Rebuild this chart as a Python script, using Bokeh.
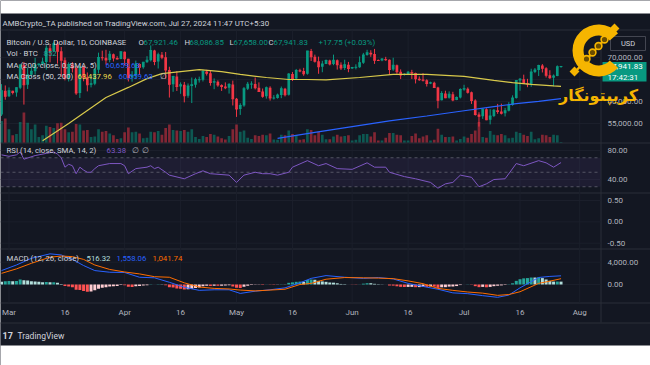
import numpy as np
import pandas as pd
from bokeh.plotting import figure
from bokeh.models import Range1d
from bokeh.core.properties import value
from bokeh.embed import file_html
from bokeh.resources import INLINE

# ----------------------------- data -----------------------------
first_day = "2024-02-28"
opens = [57050, 62450, 61200, 62430, 62030, 63130, 68280, 63800, 66100, 66900, 68300, 68500, 69000, 72100, 71480, 73100, 71400, 69400, 65300, 68400,
         67600, 61950, 67850, 65500, 63800, 64050, 67200, 70000, 69950, 69450, 70750, 69900, 69650, 71300, 69700, 65450, 65950, 68500, 67800, 68900,
         69350, 71600, 69100, 70600, 70050, 67150, 63900, 65700, 63400, 63800, 61300, 63500, 63800, 64950, 64950, 66800, 66400, 64300, 64500, 63750,
         63400, 63100, 63850, 60600, 58300, 59100, 62900, 63900, 64000, 63150, 62300, 61200, 63100, 60800, 60800, 61450, 62900, 61550, 66250, 65250,
         67050, 66950, 66300, 71450, 70150, 69150, 67900, 68550, 69300, 68500, 69400, 68350, 67600, 68350, 67500, 67750, 67800, 68800, 70550, 71100,
         70800, 69350, 69300, 69650, 69500, 67300, 68250, 66750, 66000, 66200, 66650, 66500, 65150, 64950, 64850, 64100, 64250, 63200, 60300, 61800,
         60850, 61650, 60350, 60900, 62700, 62900, 62100, 60200, 57050, 56650, 58250, 55850, 56700, 58000, 57750, 57350, 57900, 59200, 60800, 64750,
         65050, 64100, 63950, 66700, 67150, 68200, 67550, 65950, 65400, 65800, 67921.46]
highs = [63950, 63650, 63200, 62450, 63230, 68550, 69000, 67650, 67950, 69950, 68650, 69950, 72750, 72950, 73650, 73800, 72400, 70000, 68900, 68950,
         68100, 68100, 68200, 66600, 65950, 67550, 71100, 71550, 71750, 71500, 70900, 70300, 71350, 71350, 69700, 66900, 69300, 68700, 69000, 70300,
         72750, 71750, 71100, 71250, 71250, 67900, 65850, 66900, 64350, 64450, 64100, 65450, 65400, 65650, 67200, 67200, 67050, 65250, 64800, 63900,
         64350, 64200, 64750, 60800, 59600, 63300, 64450, 64600, 65450, 64350, 62950, 63400, 63450, 61450, 61800, 63400, 63100, 66450, 66700, 67400,
         67450, 67650, 71500, 71950, 70650, 70200, 69250, 69550, 69500, 70650, 69550, 68900, 69500, 69000, 67850, 68450, 70250, 71050, 71750, 71650,
         71950, 69550, 69850, 70150, 69550, 69950, 68400, 67300, 66400, 66950, 67200, 66550, 65700, 66450, 65050, 64500, 64500, 63350, 62350, 62450,
         62300, 62200, 61150, 63000, 63800, 63200, 62250, 60500, 57550, 58450, 58450, 58250, 58300, 59450, 59500, 58550, 59850, 61400, 64900, 65350,
         66100, 65150, 67450, 67600, 68350, 68500, 67800, 67100, 66150, 68200, 68086.85]
lows = [56700, 60400, 61000, 61600, 61100, 62800, 59300, 62850, 65500, 66100, 67950, 68150, 67250, 68900, 71350, 68600, 65600, 64800, 64550, 66600,
        61500, 60800, 64600, 62300, 63200, 63700, 66400, 69300, 68400, 68900, 69100, 69550, 69600, 68150, 64550, 64500, 65100, 66000, 67450, 68800,
        69100, 68250, 67500, 69600, 65100, 60900, 62200, 62400, 61750, 59800, 60850, 59650, 63150, 64300, 64550, 65900, 63600, 62800, 63350, 62400,
        62800, 61800, 59100, 56500, 56950, 58800, 62600, 62900, 62750, 62250, 60850, 60650, 60200, 60450, 60650, 60750, 61150, 61350, 64650, 65100,
        66650, 65850, 66100, 69200, 68850, 66300, 66650, 68500, 68200, 68250, 67250, 67150, 67150, 66650, 67400, 67300, 67650, 68550, 70400, 70150,
        68550, 69200, 69150, 69250, 66100, 66950, 66300, 65100, 65900, 66050, 65100, 64100, 64700, 64550, 63400, 63950, 63200, 58450, 60250, 60750,
        60650, 60050, 60300, 60700, 62450, 61800, 59450, 56800, 54300, 56050, 55750, 54800, 56450, 57200, 57050, 56600, 57750, 59050, 60650, 62450,
        64000, 63250, 63350, 66450, 65800, 66600, 65450, 65150, 63450, 65750, 67658.00]
closes = [62450, 61200, 62430, 62030, 63130, 68280, 63800, 66100, 66900, 68300, 68500, 69000, 72100, 71480, 73100, 71400, 69400, 65300, 68400, 67600,
          61950, 67850, 65500, 63800, 64050, 67200, 70000, 69950, 69450, 70750, 69900, 69650, 71300, 69700, 65450, 65950, 68500, 67800, 68900, 69350,
          71600, 69100, 70600, 70050, 67150, 63900, 65700, 63400, 63800, 61300, 63500, 63800, 64950, 64950, 66800, 66400, 64300, 64500, 63750, 63400,
          63100, 63850, 60600, 58300, 59100, 62900, 63900, 64000, 63150, 62300, 61200, 63100, 60800, 60800, 61450, 62900, 61550, 66250, 65250, 67050,
          66950, 66300, 71450, 70150, 69150, 67900, 68550, 69300, 68500, 69400, 68350, 67600, 68350, 67500, 67750, 67800, 68800, 70550, 71100, 70800,
          69350, 69300, 69650, 69500, 67300, 68250, 66750, 66000, 66200, 66650, 66500, 65150, 64950, 64850, 64100, 64250, 63200, 60300, 61800, 60850,
          61650, 60350, 60900, 62700, 62900, 62100, 60200, 57050, 56650, 58250, 55850, 56700, 58000, 57750, 57350, 57900, 59200, 60800, 64750, 65050,
          64100, 63950, 66700, 67150, 68200, 67550, 65950, 65400, 65800, 67924.08, 67941.83]
volumes = [36000, 40000, 22000, 12000, 14000, 34000, 50000, 33000, 22000, 30000, 9000, 12000, 28000, 26000, 24000, 32000, 33000, 22000, 17000, 18000,
           31000, 30000, 20000, 21000, 9000, 10000, 22000, 18000, 19000, 15000, 12000, 6000, 7000, 17000, 25000, 17000, 18000, 15000, 7000, 8000,
           18000, 17000, 19000, 13000, 24000, 30000, 21000, 20000, 19000, 21000, 18000, 22000, 9000, 6000, 11000, 9000, 14000, 13000, 10000, 7000,
           5000, 11000, 22000, 30000, 18000, 20000, 8000, 6000, 12000, 11000, 13000, 12000, 15000, 5000, 4500, 13000, 12000, 20000, 14000, 12000,
           4500, 5500, 22000, 21000, 12000, 18000, 13000, 5500, 5500, 10000, 13000, 10000, 11000, 12000, 3500, 4500, 12000, 14000, 14000, 10000,
           17000, 3500, 3500, 8000, 16000, 16000, 13000, 12000, 3500, 3500, 11000, 15000, 7000, 10000, 12000, 3500, 4500, 23000, 13000, 9000,
           9000, 10000, 3500, 6000, 10000, 8000, 14000, 20000, 34000, 9000, 8000, 19000, 13000, 12000, 14000, 12000, 7000, 8000, 18000, 16000,
           13000, 11000, 18000, 5500, 7000, 13000, 12000, 9000, 13000, 12000, 852]
macd_hist = [500, 600, 650, 600, 620, 900, 750, 700, 600, 560, 480, 400, 450, 400, 420, 300, 100, -250, -350, -500,
             -950, -1000, -1150, -1300, -1250, -1050, -750, -600, -500, -350, -300, -250, -100, -120, -400, -450, -300, -280, -200, -120,
             50, 20, 60, 40, -150, -500, -550, -700, -780, -900, -850, -780, -650, -520, -330, -220, -250, -230, -240, -230,
             -200, -150, -350, -600, -650, -420, -230, -100, -50, -40, -80, 20, -40, -60, -30, 40, 30, 300, 380, 480,
             520, 480, 800, 900, 850, 650, 550, 480, 360, 330, 220, 100, 70, 0, -30, -40, 20, 150, 230, 230,
             120, 60, 30, 0, -180, -200, -320, -420, -450, -430, -420, -480, -470, -420, -420, -350, -380, -600, -500, -480,
             -380, -360, -280, -100, 0, 30, -50, -300, -480, -430, -500, -430, -300, -220, -160, -80, 40, 220, 650, 950,
             1100, 1150, 1250, 1250, 1300, 1150, 900, 650, 520, 530, 516.32]
macd_dates = ["2024-02-28", "2024-03-03", "2024-03-07", "2024-03-12", "2024-03-15", "2024-03-18", "2024-03-21", "2024-03-24", "2024-03-28", "2024-04-01",
              "2024-04-05", "2024-04-09", "2024-04-13", "2024-04-17", "2024-04-21", "2024-04-25", "2024-04-29", "2024-05-02", "2024-05-06", "2024-05-10",
              "2024-05-14", "2024-05-18", "2024-05-21", "2024-05-25", "2024-05-30", "2024-06-04", "2024-06-08", "2024-06-12", "2024-06-16", "2024-06-20",
              "2024-06-24", "2024-06-28", "2024-07-02", "2024-07-06", "2024-07-10", "2024-07-13", "2024-07-16", "2024-07-21", "2024-07-24", "2024-07-27"]
macd_line = [2500, 3500, 4700, 5500, 5300, 4500, 3400, 2500, 2200, 2150, 1300, 1200, 400, -500, -1050, -950, -950, -1600, -1200, -950,
             -600, 300, 1100, 1600, 1300, 1100, 1250, 1000, 200, -350, -850, -1500, -1650, -2000, -2300, -1900, -600, 1260, 1450, 1558.06]
signal_line = [2000, 2800, 3800, 4900, 5100, 5000, 4500, 3500, 2700, 2250, 1900, 1400, 1300, 300, -450, -700, -800, -1000, -1150, -1000,
               -850, 0, 200, 950, 1250, 1200, 1150, 1050, 650, 150, -700, -1050, -1350, -1550, -1950, -1800, -1300, 200, 600, 1041.74]
ma50_dates = ["2024-03-10", "2024-03-17", "2024-03-22", "2024-03-27", "2024-04-02", "2024-04-07", "2024-04-11", "2024-04-16", "2024-04-21", "2024-04-27",
              "2024-05-02", "2024-05-09", "2024-05-15", "2024-05-20", "2024-05-25", "2024-06-03", "2024-06-12", "2024-06-21", "2024-07-01", "2024-07-09",
              "2024-07-14", "2024-07-19", "2024-07-25", "2024-07-27"]
ma50 = [51100, 55000, 57950, 60900, 63200, 65200, 66350, 66800, 67250, 66800, 66150, 65450, 65000, 65000, 64900, 65450, 66150, 66150, 65700, 64800,
        64300, 63900, 63550, 63437.96]
ma200_dates = ["2024-05-12", "2024-05-22", "2024-06-01", "2024-06-11", "2024-06-21", "2024-07-01", "2024-07-09", "2024-07-15", "2024-07-21", "2024-07-27"]
ma200 = [51600, 53000, 54300, 55600, 56700, 57900, 58850, 59500, 60050, 60659.63]
rsi_dates = ["2024-02-28", "2024-03-01", "2024-03-03", "2024-03-04", "2024-03-05", "2024-03-08", "2024-03-11", "2024-03-13", "2024-03-14", "2024-03-15",
             "2024-03-16", "2024-03-17", "2024-03-18", "2024-03-19", "2024-03-20", "2024-03-21", "2024-03-22", "2024-03-23", "2024-03-24", "2024-03-25",
             "2024-03-28", "2024-03-31", "2024-04-01", "2024-04-02", "2024-04-04", "2024-04-07", "2024-04-08", "2024-04-09", "2024-04-10", "2024-04-12",
             "2024-04-13", "2024-04-17", "2024-04-20", "2024-04-22", "2024-04-24", "2024-04-29", "2024-05-01", "2024-05-03", "2024-05-06", "2024-05-08",
             "2024-05-10", "2024-05-12", "2024-05-15", "2024-05-16", "2024-05-20", "2024-05-23", "2024-05-25", "2024-05-28", "2024-06-01", "2024-06-05",
             "2024-06-07", "2024-06-10", "2024-06-11", "2024-06-15", "2024-06-18", "2024-06-22", "2024-06-24", "2024-06-26", "2024-06-28", "2024-06-30",
             "2024-07-03", "2024-07-05", "2024-07-07", "2024-07-09", "2024-07-12", "2024-07-15", "2024-07-17", "2024-07-21", "2024-07-23", "2024-07-25",
             "2024-07-27"]
rsi_vals = [74, 72, 74, 78, 68, 73, 76, 78, 75, 70, 57, 61, 59, 48, 57, 53, 50, 50, 55, 59,
            62, 62, 59, 48, 55, 57, 59, 55, 57, 50, 46, 41, 48, 52, 48, 46, 36, 46, 50, 48,
            48, 46, 50, 57, 66, 59, 62, 55, 54, 63, 57, 57, 50, 44, 41, 36, 28, 34, 36, 46,
            43, 30, 34, 40, 41, 62, 59, 66, 63, 57, 63.38]
tick_dates = ["2024-03-01", "2024-03-16", "2024-04-01", "2024-04-16", "2024-05-01", "2024-05-16",
              "2024-06-01", "2024-06-16", "2024-07-01", "2024-07-16", "2024-08-01"]
tick_labels = ["Mar", "16", "Apr", "16", "May", "16", "Jun", "16", "Jul", "16", "Aug"]
price_ticks = [70000, 60000, 55000]
price_grid = [70000, 65000, 60000, 55000]
rsi_ticks = [80, 40]
rsi_levels = [70, 50, 30]
blank_ticks = [0.5, 0.0, -0.5]
macd_ticks = [4000, 0]
header = "AMBCrypto_TA published on TradingView.com, Jul 27, 2024 11:47 UTC+5:30"
countdown = "17:42:31"
watermark = "کریپتونگار"

# ----------------------------- layout -----------------------------
W, H = 650, 365
BG = "#131722"
LINE = "#2a2e39"
GRID = "#1b1f2b"
TXT = "#d1d4dc"
AXT = "#b2b5be"
UP, DN = "#089981", "#f23645"
GOLD = "#f6b500"
FONT = value("Roboto")
LEG = "7.8px"
ORG = pd.Timestamp("2024-03-01")
X0_REF, PX_DAY = 8.5, 3.73
PANE_R = 600               # x of the pane / price scale border


def day(s):
    return (pd.Timestamp(s) - ORG).days


def yrange(v1, y1, v2, y2):
    k = (v2 - v1) / (y2 - y1)
    return Range1d(start=v1 + (H - y1) * k, end=v1 - y1 * k)


dates = pd.date_range(first_day, periods=len(closes), freq="D")
xd = np.array([(d - ORG).days for d in dates], dtype=float)

p = figure(width=W, height=H,
           x_range=Range1d(-X0_REF / PX_DAY, (W - X0_REF) / PX_DAY),
           y_range=yrange(70000, 57, 60000, 101),
           output_backend="svg", toolbar_location=None,
           x_axis_location=None, y_axis_location=None,
           min_border=0, min_border_left=0, min_border_right=0, min_border_top=0, min_border_bottom=0,
           background_fill_color=BG, border_fill_color=BG, outline_line_color=None)
p.grid.visible = False
p.extra_x_ranges = {"px": Range1d(0, W)}
p.extra_y_ranges = {"py": Range1d(H, 0),
                    "vol": yrange(0, 142, 50000, 112),
                    "rsi": yrange(80, 150, 40, 179),
                    "blank": yrange(0.5, 200, -0.5, 242.7),
                    "macd": yrange(4000, 261.7, 0, 284)}

PX = dict(x_range_name="px", y_range_name="py")


def hline(y, x0=0, x1=W, color=LINE, width=1):
    p.segment(x0=[x0], x1=[x1], y0=[y], y1=[y], line_color=color, line_width=width, **PX)


def txt(x, y, s, color=TXT, size=LEG, align="left", style="normal", font=FONT):
    p.text(x=[x], y=[y], text=[s], text_color=color, text_font=font, text_font_size=value(size),
           text_align=align, text_baseline="middle", text_font_style=style, **PX)


# page bands
p.quad(left=[0], right=[W], top=[0], bottom=[13], fill_color="white", line_color=None, **PX)
p.quad(left=[0], right=[W], top=[322], bottom=[345], fill_color="#161a25", line_color=None, **PX)
p.quad(left=[0], right=[W], top=[345], bottom=[H], fill_color="white", line_color=None, **PX)
for yv in (29.5, 142.5, 192.5, 248.5, 302.5, 322.5):
    hline(yv)
p.segment(x0=[PANE_R + 0.5], x1=[PANE_R + 0.5], y0=[30], y1=[322], line_color=LINE, **PX)

# grid
tick_x = [day(s) for s in tick_dates]
p.segment(x0=tick_x, x1=tick_x, y0=[30] * len(tick_x), y1=[302] * len(tick_x), line_color=GRID, y_range_name="py")
p.segment(x0=[0] * len(price_grid), x1=[PANE_R] * len(price_grid), y0=price_grid, y1=price_grid, line_color=GRID, x_range_name="px")
for rname, vals in (("rsi", rsi_ticks), ("blank", blank_ticks), ("macd", macd_ticks)):
    p.segment(x0=[0] * len(vals), x1=[PANE_R] * len(vals), y0=vals, y1=vals, line_color=GRID,
              x_range_name="px", y_range_name=rname)

# RSI band
p.quad(left=[0], right=[PANE_R], top=[rsi_levels[0]], bottom=[rsi_levels[-1]], fill_color="#7e57c2", fill_alpha=0.1,
       line_color=None, x_range_name="px", y_range_name="rsi")
p.segment(x0=[0] * 3, x1=[PANE_R] * 3, y0=rsi_levels, y1=rsi_levels, line_color="#787b86", line_alpha=0.6,
          line_dash="3 3", x_range_name="px", y_range_name="rsi")

# volume
o, c = np.array(opens), np.array(closes)
up = c >= o
col = [UP if u else DN for u in up]
p.vbar(x=xd, top=volumes, bottom=0, width=0.72, fill_color=col, fill_alpha=0.5, line_color=None, y_range_name="vol")

# candles
p.segment(x0=xd, x1=xd, y0=lows, y1=highs, line_color=col, line_width=1)
p.vbar(x=xd, top=np.maximum(o, c), bottom=np.minimum(o, c), width=0.72, fill_color=col, line_color=None)
p.rect(x=xd, y=c, width=0.72, height=1, height_units="screen", fill_color=col, line_color=None)

# moving averages
p.line([day(s) for s in ma50_dates], ma50, line_color="#d8c94b", line_width=1.2)
p.line([day(s) for s in ma200_dates], ma200, line_color="#2962ff", line_width=1.2)

# RSI
p.line([day(s) for s in rsi_dates], rsi_vals, line_color="#7e57c2", line_width=1, y_range_name="rsi")

# MACD
hcol = []
for i, h in enumerate(macd_hist):
    prev = macd_hist[i - 1] if i else h
    if h >= 0:
        hcol.append("#26a69a" if h > prev else "#b2dfdb")
    else:
        hcol.append("#ffcdd2" if h > prev else "#ff5252")
p.vbar(x=xd, top=macd_hist, bottom=0, width=0.8, fill_color=hcol, line_color=None, y_range_name="macd")
p.line([day(s) for s in macd_dates], macd_line, line_color="#2962ff", line_width=1, y_range_name="macd")
p.line([day(s) for s in macd_dates], signal_line, line_color="#ff6d00", line_width=1, y_range_name="macd")

# ----------------------------- texts -----------------------------
txt(2, 23, header, size="7.9px")
chg = closes[-1] - closes[-2]
pct = chg / closes[-2] * 100
row1 = [(6, "Bitcoin / U.S. Dollar, 1D, COINBASE", TXT), (138, "O", TXT), (143, f"{opens[-1]:,.2f}", UP),
        (184, "H", TXT), (189, f"{highs[-1]:,.2f}", UP), (229, "L", TXT), (233, f"{lows[-1]:,.2f}", UP),
        (268, "C", TXT), (273, f"{closes[-1]:,.2f}", UP), (318, f"{chg:+,.2f} ({pct:+.2f}%)", UP)]
for xv, s, cc in row1:
    txt(xv, 41.5, s, cc)
txt(6, 53.3, "Vol · BTC")
txt(43, 53.3, f"{volumes[-1]:,.0f}", "#26a69a")
txt(6, 64.8, "MA (200, close, 0, SMA, 5)")
txt(105, 64.8, f"{ma200[-1]:,.2f}", "#2962ff")
txt(6, 76.3, "MA Cross (50, 200)")
txt(77, 76.3, f"{ma50[-1]:,.2f}", "#e8d84e")
txt(118, 76.3, f"{ma200[-1]:,.2f}", "#2962ff")
txt(159, 76.3, "∅", AXT)
txt(6, 150, "RSI (14, close, SMA, 14, 2)")
txt(106, 150, f"{rsi_vals[-1]:.2f}", "#7e57c2")
txt(131, 150, "∅", AXT)
txt(141, 150, "∅", AXT)
txt(6, 258, "MACD (12, 26, close)")
txt(86, 258, f"{macd_hist[-1]:,.2f}", hcol[-1])
txt(116, 258, f"{macd_line[-1]:,.2f}", "#2962ff")
txt(152, 258, f"{signal_line[-1]:,.2f}", "#ff6d00")

# time axis labels
p.text(x=tick_x, y=[312] * len(tick_x), text=tick_labels, text_color=AXT, text_font=FONT,
       text_font_size=value("8px"), text_align="center", text_baseline="middle", y_range_name="py")

# right scale labels
for rname, vals in ((None, price_ticks), ("rsi", rsi_ticks), ("blank", blank_ticks), ("macd", macd_ticks)):
    kw = dict(x_range_name="px")
    if rname:
        kw["y_range_name"] = rname
    p.text(x=[607] * len(vals), y=vals, text=[f"{v:,.2f}" for v in vals], text_color=AXT, text_font=FONT,
           text_font_size=value("8px"), text_align="left", text_baseline="middle", **kw)

# USD box and current price label
p.quad(left=[610], right=[645], top=[36], bottom=[50], fill_color=None, line_color="#434651", **PX)
txt(627.5, 43, "USD", TXT, size="7.5px", align="center")
p.quad(left=[602], right=[646], top=[61.5], bottom=[81], fill_color=UP, line_color=None, **PX)
p.text(x=[607], y=[closes[-1]], text=[f"{closes[-1]:,.2f}"], text_color="white", text_font=FONT,
       text_font_size=value("8px"), text_align="left", text_baseline="middle", x_range_name="px")
txt(607, 76.5, countdown, "white", size="8px")

# footer
txt(2, 335, "17", TXT, size="9px", style="bold")
txt(17, 335, "TradingView", TXT, size="8.5px")

# watermark
cx, cy = 598, 50
p.annular_wedge(x=[cx], y=[cy], inner_radius=15, outer_radius=26, inner_radius_units="screen",
                outer_radius_units="screen", start_angle=0.72, end_angle=2 * np.pi - 0.72,
                fill_color=GOLD, line_color=None, **PX)
p.segment(x0=[575], y0=[71], x1=[614], y1=[28], line_color=GOLD, line_width=2.5, **PX)
p.circle(x=[586, 592, 598, 604], y=[58.5, 52, 45.5, 39], radius=3.4,
         radius_units="screen", fill_color="#6b4d00", line_color=GOLD, line_width=1.6, **PX)
p.rect(x=[574, 614], y=[71, 28], width=7, height=7, width_units="screen", height_units="screen",
       angle=0.785, fill_color=GOLD, line_color=None, **PX)
txt(598, 95, watermark, GOLD, size="16px", align="center", style="bold", font=value("DejaVu Sans"))

open("out.html", "w").write(file_html(p, INLINE))
